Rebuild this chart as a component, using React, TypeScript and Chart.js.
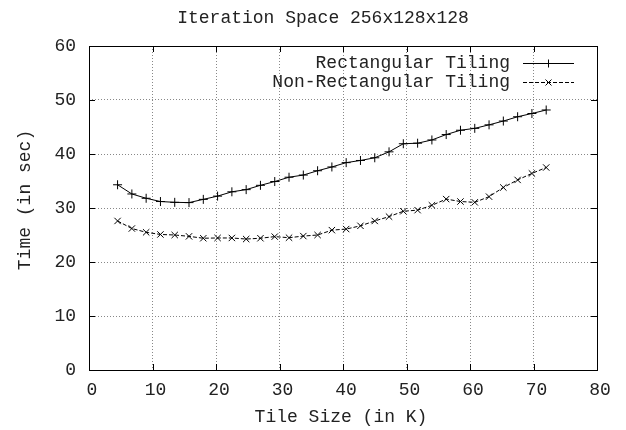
import React, { useEffect, useRef } from "react";
import { Chart, registerables } from "chart.js";

Chart.register(...registerables);

const tileSizes = [4.5, 6.75, 9, 11.25, 13.5, 15.75, 18, 20.25, 22.5, 24.75, 27, 29.25, 31.5, 33.75, 36, 38.25, 40.5, 42.75, 45, 47.25, 49.5, 51.75, 54, 56.25, 58.5, 60.75, 63, 65.25, 67.5, 69.75, 72];
const rectangular = [34.3, 32.6, 31.8, 31.2, 31.05, 31.0, 31.6, 32.2, 33.0, 33.4, 34.2, 34.9, 35.7, 36.1, 36.9, 37.6, 38.4, 38.8, 39.3, 40.4, 41.9, 42.0, 42.6, 43.6, 44.4, 44.75, 45.4, 46.1, 46.9, 47.5, 48.15];
const nonRectangular = [27.6, 26.2, 25.5, 25.1, 25.0, 24.75, 24.4, 24.45, 24.45, 24.25, 24.4, 24.7, 24.5, 24.8, 25.0, 25.9, 26.1, 26.7, 27.6, 28.4, 29.4, 29.6, 30.5, 31.65, 31.2, 31.05, 32.1, 33.8, 35.2, 36.4, 37.5];
const seriesNames = ["Rectangular Tiling", "Non-Rectangular Tiling"];
const chartTitle = "Iteration Space 256x128x128";
const xTitle = "Tile Size (in K)";
const yTitle = "Time (in sec)";
const xTicks = [0, 10, 20, 30, 40, 50, 60, 70, 80];
const yTicks = [0, 10, 20, 30, 40, 50, 60];

const FONT = "'Liberation Mono', 'DejaVu Sans Mono', monospace";
const FS = 18;
const TEXT = "#222";

const decorPlugin = {
  id: "decor",
  afterDraw(chart: any) {
    const ctx = chart.ctx;
    const a = chart.chartArea;
    const xs = chart.scales.x;
    const ys = chart.scales.y;
    ctx.save();
    ctx.strokeStyle = "#000";
    ctx.lineWidth = 1;
    ctx.setLineDash([]);
    ctx.strokeRect(Math.round(a.left) + 0.5, Math.round(a.top) + 0.5, Math.round(a.right - a.left), Math.round(a.bottom - a.top));
    const tl = 6;
    ctx.beginPath();
    xTicks.forEach((v) => {
      const px = Math.round(xs.getPixelForValue(v)) + 0.5;
      ctx.moveTo(px, a.bottom);
      ctx.lineTo(px, a.bottom - tl);
      ctx.moveTo(px, a.top);
      ctx.lineTo(px, a.top + tl);
    });
    yTicks.forEach((v) => {
      const py = Math.round(ys.getPixelForValue(v)) + 0.5;
      ctx.moveTo(a.left, py);
      ctx.lineTo(a.left + tl, py);
      ctx.moveTo(a.right, py);
      ctx.lineTo(a.right - tl, py);
    });
    ctx.stroke();

    ctx.fillStyle = TEXT;
    ctx.font = `${FS}px ${FONT}`;
    ctx.textAlign = "center";
    ctx.textBaseline = "middle";
    ctx.fillText(chartTitle, 323, 18);
    ctx.fillText(xTitle, 341, 417);
    ctx.save();
    ctx.translate(25, 200);
    ctx.rotate(-Math.PI / 2);
    ctx.fillText(yTitle, 0, 0);
    ctx.restore();

    const rows = [63, 82];
    rows.forEach((ry, i) => {
      ctx.textAlign = "right";
      ctx.textBaseline = "middle";
      ctx.fillStyle = TEXT;
      ctx.fillText(seriesNames[i], 510, ry);
      ctx.beginPath();
      ctx.setLineDash(i === 0 ? [] : [4, 2]);
      ctx.moveTo(523, ry + 0.5);
      ctx.lineTo(574, ry + 0.5);
      ctx.stroke();
      ctx.setLineDash([]);
      ctx.beginPath();
      const cx = 548.5;
      if (i === 0) {
        ctx.moveTo(cx - 4, ry + 0.5);
        ctx.lineTo(cx + 4, ry + 0.5);
        ctx.moveTo(cx, ry - 3.5);
        ctx.lineTo(cx, ry + 4.5);
      } else {
        ctx.moveTo(cx - 3, ry - 2.5);
        ctx.lineTo(cx + 3, ry + 3.5);
        ctx.moveTo(cx + 3, ry - 2.5);
        ctx.lineTo(cx - 3, ry + 3.5);
      }
      ctx.stroke();
    });
    ctx.restore();
  },
};

export default function App() {
  const ref = useRef<HTMLCanvasElement>(null);
  useEffect(() => {
    if (!ref.current) return;
    const chart = new Chart(ref.current, {
      type: "line",
      data: {
        datasets: [
          {
            label: seriesNames[0],
            data: tileSizes.map((x, i) => ({ x, y: rectangular[i] })),
            borderColor: "#000",
            backgroundColor: "#000",
            borderWidth: 1,
            pointStyle: "cross",
            pointRadius: 4.5,
            pointBorderWidth: 1,
            pointBorderColor: "#000",
            tension: 0,
            fill: false,
          },
          {
            label: seriesNames[1],
            data: tileSizes.map((x, i) => ({ x, y: nonRectangular[i] })),
            borderColor: "#000",
            backgroundColor: "#000",
            borderWidth: 1,
            borderDash: [4, 2],
            pointStyle: "crossRot",
            pointRadius: 4.5,
            pointBorderWidth: 1,
            pointBorderColor: "#000",
            tension: 0,
            fill: false,
          },
        ],
      },
      options: {
        animation: false,
        responsive: false,
        devicePixelRatio: 1,
        layout: { padding: { left: 0, top: 46, right: 29, bottom: 0 } },
        plugins: { legend: { display: false }, title: { display: false }, tooltip: { enabled: false } },
        scales: {
          x: {
            type: "linear",
            min: 0,
            max: 80,
            afterFit: (s: any) => { s.height = 60; },
            afterBuildTicks: (s: any) => { s.ticks = xTicks.map((v) => ({ value: v })); },
            ticks: { stepSize: 10, color: TEXT, font: { family: FONT, size: FS }, padding: 9, maxRotation: 0, labelOffset: 3 },
            grid: { color: "#888", drawTicks: false, lineWidth: 1 },
            border: { display: false, dash: [1, 2] },
          },
          y: {
            type: "linear",
            min: 0,
            max: 60,
            afterFit: (s: any) => { s.width = 89; },
            afterBuildTicks: (s: any) => { s.ticks = yTicks.map((v) => ({ value: v })); },
            ticks: { stepSize: 10, color: TEXT, font: { family: FONT, size: FS }, padding: 13 },
            grid: { color: "#888", drawTicks: false, lineWidth: 1 },
            border: { display: false, dash: [1, 2] },
          },
        },
      },
      plugins: [decorPlugin],
    });
    return () => chart.destroy();
  }, []);
  return (
    <div style={{ position: "fixed", left: 0, top: 0, width: 626, height: 430, background: "#fff" }}>
      <canvas ref={ref} width={626} height={430} style={{ width: 626, height: 430 }} />
    </div>
  );
}
